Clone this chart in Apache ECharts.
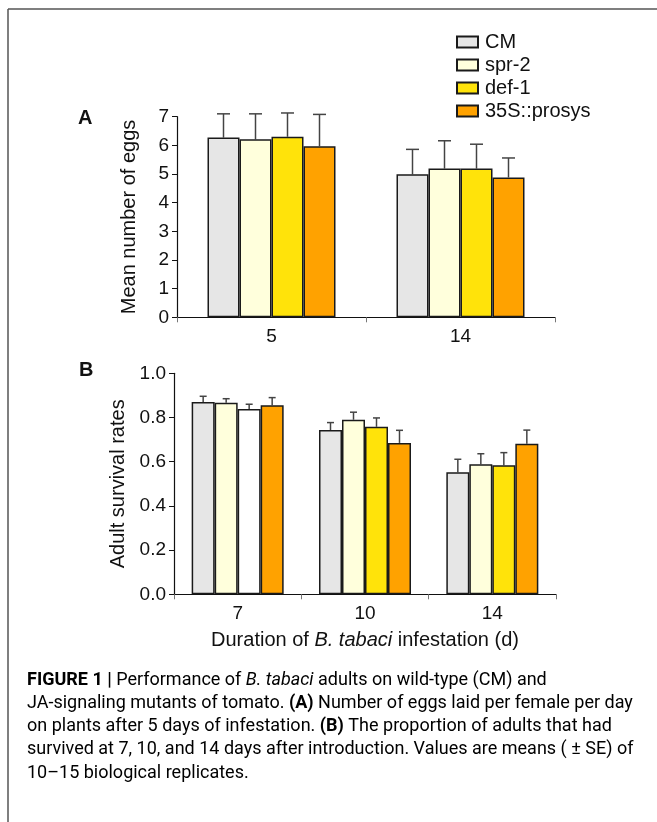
<!DOCTYPE html>
<html>
<head>
<meta charset="utf-8">
<script src="https://cdn.jsdelivr.net/npm/echarts@6/dist/echarts.min.js"></script>
<style>
html,body{margin:0;padding:0;background:#fff;}
#c{width:657px;height:822px;}
</style>
</head>
<body>
<div id="c"></div>
<script>
// ---- Data ----
const seriesNames = ['CM', 'spr-2', 'def-1', '35S::prosys'];
const colors = ['#e6e6e6', '#ffffdc', '#ffe30a', '#ffa200'];

// Panel A: mean number of eggs
const catsA = ['5', '14'];
const eggsCM = [6.27, 4.99];
const eggsSpr = [6.21, 5.19];
const eggsDef = [6.30, 5.19];
const eggsPro = [5.97, 4.88];
const eggsErrCM = [0.83, 0.87];
const eggsErrSpr = [0.89, 0.97];
const eggsErrDef = [0.83, 0.85];
const eggsErrPro = [1.11, 0.68];
const ticksA = [0, 1, 2, 3, 4, 5, 6, 7];

// Panel B: adult survival rates
const catsB = ['7', '10', '14'];
const survCM = [0.870, 0.743, 0.552];
const survSpr = [0.867, 0.790, 0.588];
const survDef = [0.838, 0.758, 0.584];
const survPro = [0.855, 0.685, 0.681];
const survErrCM = [0.026, 0.034, 0.059];
const survErrSpr = [0.018, 0.034, 0.048];
const survErrDef = [0.022, 0.040, 0.057];
const survErrPro = [0.035, 0.057, 0.062];
const ticksB = [0.0, 0.2, 0.4, 0.6, 0.8, 1.0];

const valsA = [eggsCM, eggsSpr, eggsDef, eggsPro];
const errsA = [eggsErrCM, eggsErrSpr, eggsErrDef, eggsErrPro];
const valsB = [survCM, survSpr, survDef, survPro];
const errsB = [survErrCM, survErrSpr, survErrDef, survErrPro];

const FONT = "'Liberation Sans', Arial, sans-serif";
const chart = echarts.init(document.getElementById('c'), null, {renderer: 'canvas'});

const gridA = {left: 177, top: 116.7, width: 378, height: 200.6};
const gridB = {left: 174, top: 373.3, width: 382, height: 221};
const bwA = 32, bwB = 23;

function yAxisCfg(gi, max, interval, name, gap, fmt) {
  return {
    type: 'value', gridIndex: gi, min: 0, max: max, interval: interval,
    name: name, nameLocation: 'middle', nameGap: gap,
    nameTextStyle: {fontFamily: FONT, fontSize: 20, color: '#111'},
    axisLine: {show: true, lineStyle: {color: '#111', width: 1.2}},
    axisTick: {show: true, length: 5, lineStyle: {color: '#111'}},
    axisLabel: {fontFamily: FONT, fontSize: 19, color: '#111', margin: 8, formatter: fmt},
    splitLine: {show: false}
  };
}
function xAxisCfg(gi, cats, name) {
  const o = {
    type: 'category', gridIndex: gi, data: cats,
    axisLine: {show: true, lineStyle: {color: '#111', width: 1.2}},
    axisTick: {show: true, length: 5, inside: false, lineStyle: {color: '#777'}},
    axisLabel: {fontFamily: FONT, fontSize: 19, color: '#111', margin: 10}
  };
  if (name) {
    o.name = name; o.nameLocation = 'middle'; o.nameGap = 36;
    o.nameTextStyle = {fontFamily: FONT, fontSize: 20, color: '#111',
      rich: {n: {fontFamily: FONT, fontSize: 20, color: '#111'},
             i: {fontFamily: FONT, fontSize: 20, color: '#111', fontStyle: 'italic'}}};
  }
  return o;
}

const series = [];
function addPanel(gi, vals, errs, bw, capW, overrides) {
  vals.forEach((v, si) => {
    series.push({
      name: seriesNames[si], type: 'bar', xAxisIndex: gi, yAxisIndex: gi,
      barWidth: bw, barGap: '0%',
      itemStyle: {color: colors[si], borderColor: '#1a1a1a', borderWidth: 1.5},
      data: v.map((y, ci) => {
        const ov = overrides && overrides[si] && overrides[si][ci];
        return ov ? {value: y, itemStyle: {color: ov}} : y;
      }),
      z: 2
    });
  });
  vals.forEach((v, si) => {
    series.push({
      type: 'custom', xAxisIndex: gi, yAxisIndex: gi, z: 1, silent: true,
      data: v.map((y, ci) => [ci, y, y + errs[si][ci]]),
      renderItem: function (params, api) {
        const c0 = api.coord([api.value(0), api.value(1)]);
        const c1 = api.coord([api.value(0), api.value(2)]);
        const x = c0[0] + (si - 1.5) * bw;
        return {
          type: 'group',
          children: [
            {type: 'line', shape: {x1: x, y1: c0[1], x2: x, y2: c1[1]}, style: {stroke: '#444', lineWidth: 1.5}},
            {type: 'line', shape: {x1: x - capW / 2, y1: c1[1], x2: x + capW / 2, y2: c1[1]}, style: {stroke: '#444', lineWidth: 1.5}}
          ]
        };
      }
    });
  });
}
addPanel(0, valsA, errsA, bwA, 13);
addPanel(1, valsB, errsB, bwB, 7, {2: {0: '#ffffff'}});

const captionLines = [
  [['b', 'FIGURE 1 | '], ['n', 'Performance of '], ['i', 'B. tabaci'], ['n', ' adults on wild-type (CM) and']],
  [['n', 'JA-signaling mutants of tomato. '], ['b', '(A)'], ['n', ' Number of eggs laid per female per day']],
  [['n', 'on plants after 5 days of infestation. '], ['b', '(B)'], ['n', ' The proportion of adults that had']],
  [['n', 'survived at 7, 10, and 14 days after introduction. Values are means ( \u00b1 SE) of']],
  [['n', '10\u201315 biological replicates.']]
];
const capTop = 681, capStep = 23.3;
const CF = "Roboto, 'Liberation Sans', Arial, sans-serif";
const capRich = {
  n: {fontFamily: CF, fontSize: 18, color: '#3c3c3c'},
  b: {fontFamily: CF, fontSize: 18, color: '#222', fontWeight: 'bold'},
  i: {fontFamily: CF, fontSize: 18, color: '#3c3c3c', fontStyle: 'italic'}
};
const graphics = [
  {type: 'line', shape: {x1: 8, y1: 9, x2: 657, y2: 9}, style: {stroke: '#555', lineWidth: 1.5}},
  {type: 'line', shape: {x1: 8, y1: 9, x2: 8, y2: 822}, style: {stroke: '#555', lineWidth: 1.5}},
  {type: 'text', left: 78, top: 108, style: {text: 'A', fontFamily: FONT, fontSize: 20, fontWeight: 'bold', fill: '#111'}},
  {type: 'text', left: 79, top: 360, style: {text: 'B', fontFamily: FONT, fontSize: 20, fontWeight: 'bold', fill: '#111'}}
];
captionLines.forEach((segs, i) => {
  graphics.push({
    type: 'text', left: 27, top: capTop + i * capStep - 10,
    style: {text: segs.map(s => '{' + s[0] + '|' + s[1] + '}').join(''), rich: capRich}
  });
});

chart.setOption({
  animation: false,
  backgroundColor: '#fff',
  grid: [gridA, gridB],
  legend: {
    orient: 'vertical', left: 451, top: 27, itemWidth: 21, itemHeight: 11, itemGap: 3,
    icon: 'rect',
    data: seriesNames,
    textStyle: {fontFamily: FONT, fontSize: 20, color: '#111', lineHeight: 20, padding: [0, 0, 0, 2]}
  },
  xAxis: [xAxisCfg(0, catsA), xAxisCfg(1, catsB, '{n|Duration of }{i|B. tabaci}{n| infestation (d)}')],
  yAxis: [
    yAxisCfg(0, 7, 1, 'Mean number of eggs', 38, v => ticksA.indexOf(v) >= 0 ? String(v) : ''),
    yAxisCfg(1, 1.0, 0.2, 'Adult survival rates', 42, v => v.toFixed(1))
  ],
  series: series,
  graphic: graphics
});
</script>
</body>
</html>
